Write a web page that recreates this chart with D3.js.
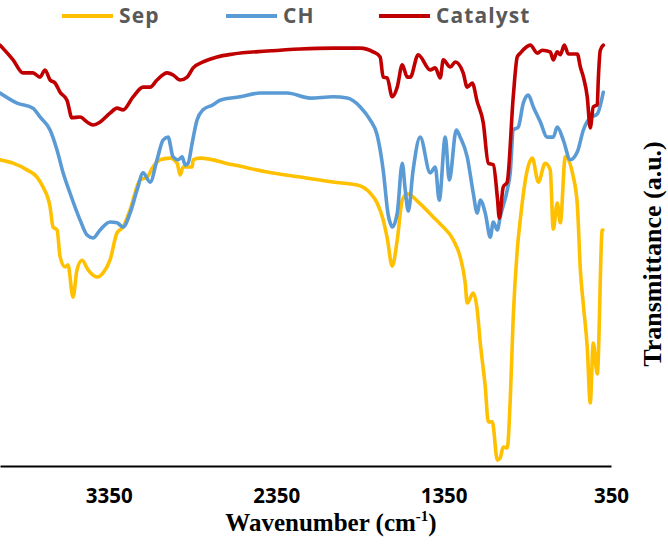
<!DOCTYPE html>
<html><head><meta charset="utf-8">
<script src="https://cdn.jsdelivr.net/npm/d3@7"></script>
<style>
html,body{margin:0;padding:0;background:#fff;}
svg{display:block;}
</style></head>
<body>
<svg id="chart" width="668" height="549"></svg>
<script>
// ---- data (wavenumber in cm-1, transmittance in arbitrary units 0-100) ----
const seriesNames = ["Sep", "CH", "Catalyst"];
const seriesColors = ["#FFC000", "#5B9BD5", "#C00000"];
const tickValues = [3350, 2350, 1350, 350];

const sepWn = [4000,3922,3839,3779,3743,3701,3683,3659,3641,3611,3594,3564,3540,3510,3474,3420,3384,3343,3301,3265,3223,3163,3121,3086,3044,2984,2942,2924,2906,2852,2846,2805,2607,2404,2207,2010,1866,1789,1747,1711,1687,1657,1627,1597,1567,1490,1412,1370,1292,1251,1221,1209,1173,1149,1131,1101,1083,1059,1029,1012,994,970,952,934,910,892,850,820,784,743,713,695,671,653,623,575,551,533,515,492,474,456,432,402,398];
const sepT  = [72.9,72.1,70.5,68.8,66.4,61.7,56.9,56.2,49.8,47.4,47.9,40.2,46.7,49.0,46.7,45.0,46.0,49.0,55.5,56.9,61.0,68.1,68.8,71.2,72.9,73.3,72.1,69.3,71.2,71.2,72.9,73.3,71.7,70.0,68.8,67.6,66.9,65.0,62.6,58.6,54.3,47.6,53.8,63.3,64.8,62.4,59.3,57.6,53.8,49.8,43.6,38.8,41.2,37.1,29.3,18.8,10.5,10.5,1.4,1.9,4.5,4.3,15.7,35.5,51.4,58.6,70.5,73.3,67.6,72.1,70.5,56.4,62.6,57.9,73.6,68.8,62.1,46.7,38.3,28.3,15.0,29.3,21.9,56.2,56.2];

const chWn = [4000,3898,3803,3761,3701,3659,3623,3582,3522,3480,3444,3402,3343,3301,3265,3223,3181,3145,3103,3062,3026,2996,2966,2936,2912,2894,2876,2852,2823,2787,2727,2685,2566,2446,2285,2147,2010,1926,1848,1789,1747,1711,1681,1669,1657,1627,1597,1579,1561,1532,1490,1430,1400,1376,1340,1316,1274,1251,1209,1173,1149,1131,1101,1071,1053,1029,1012,970,952,934,904,874,844,814,772,731,695,671,635,593,551,515,474,432,396];
const chT  = [88.8,86.4,85.2,83.1,80.0,75.2,69.8,65.0,58.6,55.0,54.3,56.2,58.1,57.9,56.9,60.2,65.7,69.8,67.6,72.9,77.6,78.3,73.6,72.9,73.6,71.7,72.1,76.9,82.4,84.8,86.0,87.1,87.9,88.8,88.8,87.6,87.9,87.6,85.5,82.4,78.8,70.5,59.8,57.9,56.9,60.2,72.1,65.7,60.7,70.5,78.3,69.8,71.2,63.3,78.3,68.1,80.0,78.3,73.6,65.0,60.2,63.3,60.2,54.5,58.1,56.2,59.3,65.7,69.8,80.0,80.7,86.4,88.3,85.5,81.9,78.3,78.3,80.7,77.6,72.9,74.8,80.0,82.9,83.8,89.0];

const catWn = [4000,3922,3863,3803,3761,3731,3701,3671,3641,3600,3570,3522,3480,3444,3402,3343,3301,3265,3205,3145,3103,3062,3002,2966,2924,2882,2846,2787,2703,2607,2404,2207,2010,1848,1771,1729,1711,1687,1657,1627,1597,1567,1549,1502,1430,1400,1370,1352,1310,1280,1233,1209,1179,1149,1113,1083,1053,1029,1017,994,970,934,910,892,832,790,760,713,695,671,653,629,605,551,533,515,492,474,456,432,426,414,396];
const catT  = [100.2,96.7,93.6,93.6,92.6,94.3,91.9,91.2,89.0,87.1,82.9,83.1,81.9,81.2,81.9,84.0,85.2,84.8,87.9,90.2,90.2,91.9,93.6,93.1,91.9,92.6,94.8,96.2,97.4,98.1,98.8,99.3,99.5,99.5,98.6,97.4,92.6,92.4,87.9,90.2,95.5,92.6,92.6,97.9,94.3,94.8,92.4,96.7,95.0,96.2,93.6,90.2,91.2,86.7,81.7,72.1,71.7,64.0,59.0,66.4,67.6,87.9,97.4,98.3,100.2,98.3,99.0,98.6,96.7,98.6,97.9,100.2,98.1,98.1,95.0,92.6,87.9,80.5,85.5,86.0,91.9,99.0,100.2];

const wnLists = [sepWn, chWn, catWn];
const tLists = [sepT, chT, catT];

// ---- layout ----
const svg = d3.select("#chart");
const plotLeft = 0, plotRight = 611, plotTop = 46, plotBottom = 466;

const x = d3.scaleLinear().domain([4000, 350]).range([plotLeft, plotRight]);
const y = d3.scaleLinear().domain([0, 100]).range([plotBottom, plotTop]);

const line = d3.line()
  .x(d => x(d[0]))
  .y(d => y(d[1]))
  .curve(d3.curveMonotoneX);

seriesNames.forEach((name, i) => {
  const pts = wnLists[i].map((w, j) => [w, tLists[i][j]]);
  svg.append("path")
    .datum(pts)
    .attr("fill", "none")
    .attr("stroke", seriesColors[i])
    .attr("stroke-width", 3.6)
    .attr("stroke-linejoin", "round")
    .attr("stroke-linecap", "round")
    .attr("d", line);
});

// x axis
const xAxis = d3.axisBottom(x)
  .tickValues(tickValues)
  .tickFormat(d3.format("d"))
  .tickSize(0)
  .tickSizeOuter(0)
  .tickPadding(22);

const gx = svg.append("g")
  .attr("transform", `translate(0,${plotBottom})`)
  .call(xAxis);
gx.select(".domain").attr("stroke", "#000").attr("stroke-width", 2.2);
gx.selectAll("text")
  .attr("font-family", "'Open Sans', sans-serif")
  .attr("font-weight", 700)
  .attr("font-size", 20.5)
  .attr("fill", "#000");

// x title
const xt = svg.append("text")
  .attr("x", 331).attr("y", 531)
  .attr("text-anchor", "middle")
  .attr("font-family", "'Liberation Serif', 'Times New Roman', serif")
  .attr("font-weight", 700)
  .attr("font-size", 25)
  .attr("fill", "#000");
xt.append("tspan").text("Wavenumber (cm");
xt.append("tspan").attr("font-size", 15).attr("dy", -10).text("-1");
xt.append("tspan").attr("dy", 10).text(")");

// y title
svg.append("text")
  .attr("transform", "translate(661,254) rotate(-90)")
  .attr("text-anchor", "middle")
  .attr("font-family", "'Liberation Serif', 'Times New Roman', serif")
  .attr("font-weight", 700)
  .attr("font-size", 26)
  .attr("fill", "#000")
  .text("Transmittance (a.u.)");

// legend
const legendX = [62, 226, 379];
const legend = svg.append("g");
seriesNames.forEach((name, i) => {
  const g = legend.append("g").attr("transform", `translate(${legendX[i]},16)`);
  g.append("line")
    .attr("x1", 0).attr("x2", 51).attr("y1", 0).attr("y2", 0)
    .attr("stroke", seriesColors[i]).attr("stroke-width", 4);
  g.append("text")
    .attr("x", 57).attr("y", 7)
    .attr("font-family", "'Open Sans', sans-serif")
    .attr("font-weight", 700)
    .attr("font-size", 21)
    .attr("letter-spacing", 1.1)
    .attr("fill", "#595959")
    .text(name);
});
</script>
</body></html>
